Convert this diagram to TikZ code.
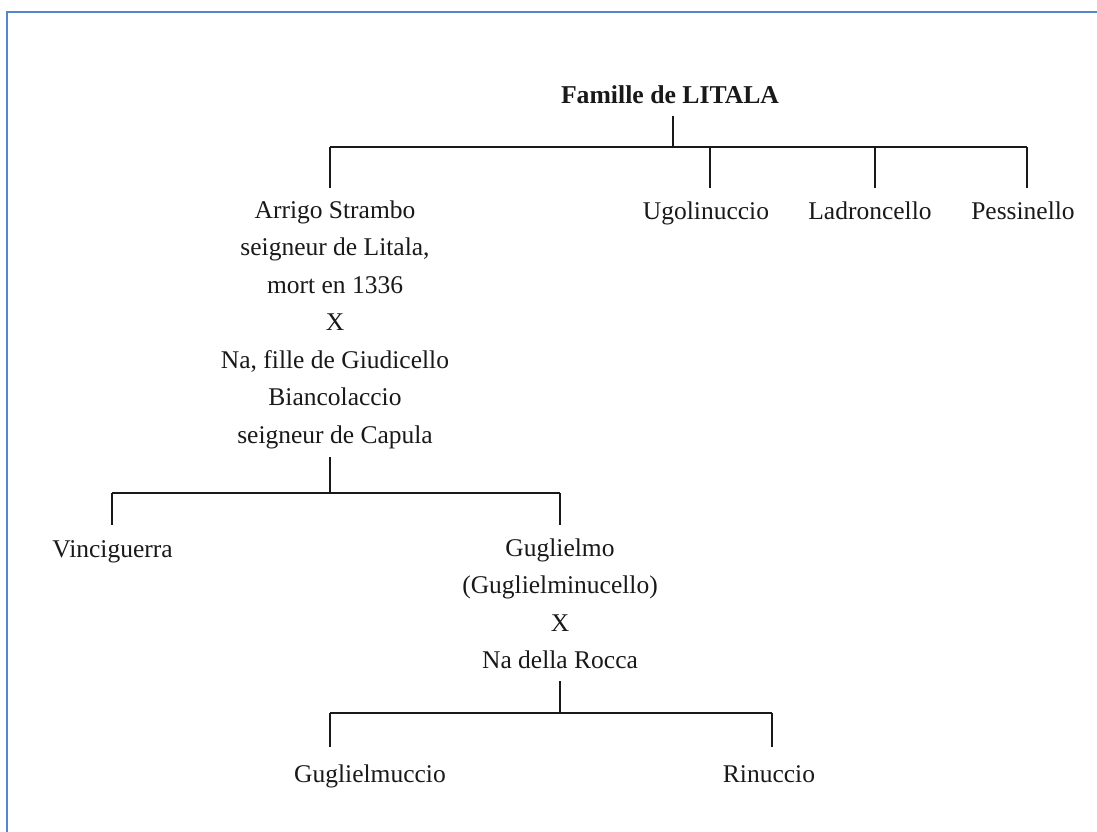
\documentclass[tikz,border=0pt]{standalone}
\usepackage{fontspec}
\setmainfont{Liberation Serif}
\definecolor{frameblue}{RGB}{84,134,200}
\definecolor{ink}{RGB}{25,25,25}
\tikzset{
  person/.style={anchor=base, inner sep=0pt, text=ink, align=center,
    font=\fontsize{25.5}{37.5}\selectfont},
  titlebox/.style={anchor=base, inner sep=0pt, text=ink,
    font=\bfseries\fontsize{25.7}{30}\selectfont},
  link/.style={draw=ink, line width=1.2pt},
  frameline/.style={draw=frameblue, line width=2.5pt}
}
\begin{document}
\begin{tikzpicture}[x=1pt,y=-1pt]
\useasboundingbox (0,0) rectangle (1097,832);
\fill[white] (0,0) rectangle (1097,832);
% frame
\coordinate (fbl) at (7,833);
\coordinate (ftl) at (7,12);
\coordinate (ftr) at (1098,12);
\draw[frameline] (fbl) -- (ftl) -- (ftr);

% title
\node[titlebox] (title) at (670,104) {Famille de LITALA};
\coordinate (ts) at (673,116);
\coordinate (tj) at (673,147);
\coordinate (tl) at (330,147);
\coordinate (tr) at (1027,147);
\coordinate (tugo) at (710,147);
\coordinate (tlad) at (875,147);
\coordinate (dArr) at (330,188);
\coordinate (dUgo) at (710,188);
\coordinate (dLad) at (875,188);
\coordinate (dPes) at (1027,188);

% generation 1 (multi-line node: base = baseline of its last line)
\node[person] (arrigo) at (335,443) {Arrigo Strambo\\seigneur de Litala,\\mort en 1336\\X\\Na, fille de Giudicello\\Biancolaccio\\seigneur de Capula};
\node[person] (ugo) at (706,219) {Ugolinuccio};
\node[person] (lad) at (870,219) {Ladroncello};
\node[person] (pes) at (1023,219) {Pessinello};

\draw[link] (ts) -- (tj);
\draw[link] (tl) -- (tr);
\draw[link] (tl) -- (dArr);
\draw[link] (tugo) -- (dUgo);
\draw[link] (tlad) -- (dLad);
\draw[link] (tr) -- (dPes);

% generation 2
\coordinate (as) at (330,457);
\coordinate (aj) at (330,493);
\coordinate (al) at (112,493);
\coordinate (ar) at (560,493);
\coordinate (dVin) at (112,525);
\coordinate (dGug) at (560,525);
\node[person] (vinci) at (112.5,557) {Vinciguerra};
\node[person] (gug) at (560,668.5) {Guglielmo\\(Guglielminucello)\\X\\Na della Rocca};
\draw[link] (as) -- (aj);
\draw[link] (al) -- (ar);
\draw[link] (al) -- (dVin);
\draw[link] (ar) -- (dGug);

% generation 3
\coordinate (gs) at (560,681);
\coordinate (gj) at (560,713);
\coordinate (gl) at (330,713);
\coordinate (gr) at (772,713);
\coordinate (dGm) at (330,747);
\coordinate (dRin) at (772,747);
\node[person] (gugm) at (370,782) {Guglielmuccio};
\node[person] (rin) at (769,782) {Rinuccio};
\draw[link] (gs) -- (gj);
\draw[link] (gl) -- (gr);
\draw[link] (gl) -- (dGm);
\draw[link] (gr) -- (dRin);
\end{tikzpicture}
\end{document}
